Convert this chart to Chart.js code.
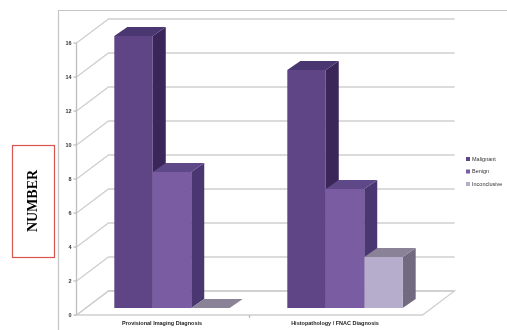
<!DOCTYPE html>
<html>
<head>
<meta charset="utf-8">
<script src="https://cdn.jsdelivr.net/npm/chart.js@4/dist/chart.umd.min.js"></script>
<style>
  html, body { margin: 0; padding: 0; background: #fff; }
  #wrap { width: 507px; height: 330px; position: relative; }
</style>
</head>
<body>
<div id="wrap"><canvas id="c" width="507" height="330"></canvas></div>
<script>
// Data
const categories = ['Provisional Imaging Diagnosis', 'Histopathology / FNAC Diagnosis'];
const malignant = [16, 14];
const benign = [8, 7];
const inconclusive = [0, 3];
const yTicks = [0, 2, 4, 6, 8, 10, 12, 14, 16];

// face colours: front, top, side
const SERIES = [
    { label: 'Malignant', data: malignant, front: '#5f4585', top: '#4a3670', side: '#3a2658' },
    { label: 'Benign', data: benign, front: '#7a5ca3', top: '#5e4888', side: '#4a3670' },
    { label: 'Inconclusive', data: inconclusive, front: '#b6accb', top: '#8a8296', side: '#726a80' },
];

// 3D offsets relative to the bar plane
const FRONT = { dx: -9, dy: 7 };    // front plane of axes / floor
const BACK = { dx: 23, dy: -17 };   // back wall
const DEPTH = { dx: 13, dy: -9 };   // bar depth

function poly(ctx, pts, fill, stroke) {
    ctx.beginPath();
    ctx.moveTo(pts[0][0], pts[0][1]);
    for (let i = 1; i < pts.length; i++) ctx.lineTo(pts[i][0], pts[i][1]);
    ctx.closePath();
    if (fill) { ctx.fillStyle = fill; ctx.fill(); }
    if (stroke) { ctx.strokeStyle = stroke; ctx.stroke(); }
}

const walls3d = {
    id: 'walls3d',
    beforeDraw(chart) {
        const { ctx, chartArea: a, scales: { y } } = chart;
        ctx.save();
        // outer chart frame
        ctx.strokeStyle = '#c4c4c4';
        ctx.lineWidth = 1.2;
        ctx.beginPath();
        ctx.moveTo(58.5, 330); ctx.lineTo(58.5, 10.5); ctx.lineTo(507, 10.5);
        ctx.stroke();

        // floor
        const yb = y.getPixelForValue(0);
        ctx.lineWidth = 1.3;
        poly(ctx, [
            [a.left + FRONT.dx, yb + FRONT.dy], [a.right + FRONT.dx, yb + FRONT.dy],
            [a.right + BACK.dx, yb + BACK.dy], [a.left + BACK.dx, yb + BACK.dy],
        ], '#fff', '#cfcfcf');

        // gridlines: side wall diagonal + back wall horizontal
        ctx.strokeStyle = '#cfcfcf';
        yTicks.forEach((v) => {
            const py = y.getPixelForValue(v);
            ctx.beginPath();
            ctx.moveTo(a.left + FRONT.dx, py + FRONT.dy);
            ctx.lineTo(a.left + BACK.dx, py + BACK.dy);
            ctx.lineTo(a.right + BACK.dx, py + BACK.dy);
            ctx.stroke();
        });

        // y axis line, tick marks and labels
        const ax = a.left + FRONT.dx;
        ctx.strokeStyle = '#bdbdbd';
        ctx.beginPath();
        ctx.moveTo(ax, y.getPixelForValue(16) + FRONT.dy);
        ctx.lineTo(ax, yb + FRONT.dy);
        ctx.stroke();
        ctx.fillStyle = '#333';
        ctx.font = 'bold 5.5px "Liberation Sans"';
        ctx.textAlign = 'right';
        ctx.textBaseline = 'middle';
        yTicks.forEach((v) => {
            const py = y.getPixelForValue(v) + FRONT.dy;
            ctx.beginPath();
            ctx.moveTo(ax - 3, py); ctx.lineTo(ax, py);
            ctx.stroke();
            ctx.fillText(String(v), ax - 5, py);
        });

        // category separator tick on the floor front edge
        const x = chart.scales.x;
        const sep = (x.getPixelForValue(0) + x.getPixelForValue(1)) / 2 + FRONT.dx;
        ctx.beginPath();
        ctx.moveTo(sep, yb + FRONT.dy); ctx.lineTo(sep, yb + FRONT.dy + 3);
        ctx.stroke();

        // category labels
        ctx.textAlign = 'center';
        ctx.fillStyle = '#222';
        categories.forEach((c, i) => {
            ctx.fillText(c, x.getPixelForValue(i) - 10, 323);
        });

        // NUMBER title box
        ctx.strokeStyle = '#d9534f';
        ctx.lineWidth = 1.2;
        ctx.strokeRect(12.5, 145.5, 42, 112);
        ctx.translate(33, 201);
        ctx.rotate(-Math.PI / 2);
        ctx.fillStyle = '#000';
        ctx.font = 'bold 14px "Liberation Serif"';
        ctx.fillText('NUMBER', 0, 0);
        ctx.restore();
    },
    beforeDatasetsDraw(chart) {
        const { ctx } = chart;
        const bars = [];
        chart.data.datasets.forEach((ds, di) => {
            chart.getDatasetMeta(di).data.forEach((el) => bars.push({ el, s: SERIES[di] }));
        });
        bars.sort((p, q) => p.el.x - q.el.x);
        ctx.save();
        bars.forEach(({ el, s }) => {
            const l = el.x - el.width / 2, r = el.x + el.width / 2;
            const t = el.y, b = el.base;
            poly(ctx, [[r, t], [r + DEPTH.dx, t + DEPTH.dy], [r + DEPTH.dx, b + DEPTH.dy], [r, b]], s.side);
            poly(ctx, [[l, t], [r, t], [r + DEPTH.dx, t + DEPTH.dy], [l + DEPTH.dx, t + DEPTH.dy]], s.top);
        });
        ctx.restore();
    },
    afterDraw(chart) {
        const { ctx } = chart;
        ctx.save();
        ctx.font = '5.5px "Liberation Sans"';
        ctx.textAlign = 'left';
        ctx.textBaseline = 'middle';
        SERIES.forEach((s, i) => {
            const py = 159 + i * 12.5;
            ctx.fillStyle = s.front;
            ctx.fillRect(466, py - 2, 4, 4);
            ctx.fillStyle = '#333';
            ctx.fillText(s.label, 472, py);
        });
        ctx.restore();
    },
};

new Chart(document.getElementById('c'), {
    type: 'bar',
    data: {
        labels: categories,
        datasets: SERIES.map((s) => ({
            label: s.label,
            data: s.data,
            backgroundColor: s.front,
            borderWidth: 0,
            barPercentage: 1,
            categoryPercentage: 0.667,
        })),
    },
    options: {
        responsive: false,
        animation: false,
        layout: { padding: { left: 85.5, right: 75.5, top: 36, bottom: 22 } },
        scales: {
            x: { display: false },
            y: { display: false, min: 0, max: 16 },
        },
        plugins: { legend: { display: false }, tooltip: { enabled: false } },
    },
    plugins: [walls3d],
});
</script>
</body>
</html>
